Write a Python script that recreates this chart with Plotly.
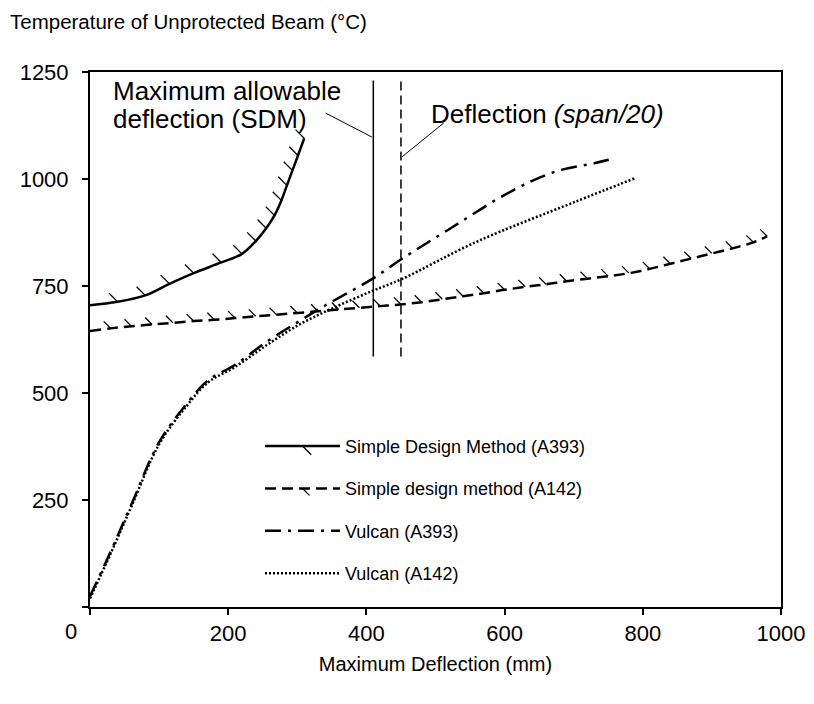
import plotly.graph_objects as go

# ---------------- data ----------------
sdm_a393_x = [0, 40, 80, 115, 150, 190, 220, 240, 255, 267, 277, 285, 293, 301, 310]
sdm_a393_y = [705, 713, 728, 755, 780, 805, 825, 855, 885, 915, 950, 985, 1020, 1055, 1095]

sdm_a142_x = [0, 30, 60, 90, 120, 150, 180, 210, 240, 270, 300, 330, 360, 390, 420, 450,
              480, 510, 540, 570, 600, 630, 660, 690, 720, 750, 780, 810, 840, 870, 900,
              930, 960, 980]
sdm_a142_y = [645, 651, 656, 660, 664, 668, 671, 675, 679, 683, 687, 691, 695, 699, 703, 707,
              712, 719, 726, 733, 741, 748, 754, 761, 767, 773, 780, 790, 802, 814, 826,
              838, 852, 866]

vulcan_a393_x = [0, 30, 60, 100, 140, 171, 209, 256, 303, 341, 408, 451, 522, 607, 673, 730, 761]
vulcan_a393_y = [25, 130, 240, 385, 475, 530, 565, 620, 668, 705, 766, 813, 885, 969, 1017, 1037, 1049]

vulcan_a142_x = [0, 30, 60, 100, 140, 171, 209, 256, 303, 351, 408, 451, 559, 701, 789]
vulcan_a142_y = [20, 125, 235, 380, 470, 525, 560, 612, 660, 698, 738, 766, 853, 946, 1002]

sdm_limit_x = [410, 410]
span20_limit_x = [450, 450]
limit_y = [585, 1230]

leader_sdm_x = [341, 408]
leader_sdm_y = [1154, 1098]
leader_span_x = [512, 451]
leader_span_y = [1131, 1051]

x_ticks = [0, 200, 400, 600, 800, 1000]
x_ticktext = ["", "200", "400", "600", "800", "1000"]
y_ticks = [0, 250, 500, 750, 1000, 1250]
y_ticktext = ["", "250", "500", "750", "1000", "1250"]

FONT = "Liberation Sans, Arial, sans-serif"
BLACK = "black"

fig = go.Figure()

hatch_big = dict(symbol="line-ns", size=9, angle=135, standoff=6, color=BLACK,
                 line=dict(color=BLACK, width=1.3))
hatch_small = dict(symbol="line-ns", size=7, angle=135, standoff=5, color=BLACK,
                   line=dict(color=BLACK, width=1.3))

fig.add_trace(go.Scatter(
    x=sdm_a393_x, y=sdm_a393_y, mode="lines+markers",
    line=dict(color=BLACK, width=2.5, shape="spline"),
    marker=hatch_big, name="Simple Design Method (A393)", legendgroup="g1"))

fig.add_trace(go.Scatter(
    x=sdm_a142_x, y=sdm_a142_y, mode="lines+markers",
    line=dict(color=BLACK, width=2.5, dash="11px,6px", shape="spline"),
    marker=hatch_small, name="Simple design method (A142)", legendgroup="g2"))

fig.add_trace(go.Scatter(
    x=vulcan_a393_x, y=vulcan_a393_y, mode="lines",
    line=dict(color=BLACK, width=2.5, dash="16px,7px,3px,7px", shape="spline"),
    name="Vulcan (A393)", legendgroup="g3"))

fig.add_trace(go.Scatter(
    x=vulcan_a142_x, y=vulcan_a142_y, mode="lines",
    line=dict(color=BLACK, width=2.5, dash="2px,2px", shape="spline"),
    name="Vulcan (A142)", legendgroup="g4"))

# reference deflection limits and leader lines
fig.add_trace(go.Scatter(x=sdm_limit_x, y=limit_y, mode="lines",
                         line=dict(color=BLACK, width=1.5), showlegend=False, hoverinfo="skip"))
fig.add_trace(go.Scatter(x=span20_limit_x, y=limit_y, mode="lines",
                         line=dict(color=BLACK, width=1.5, dash="9px,5px"),
                         showlegend=False, hoverinfo="skip"))
fig.add_trace(go.Scatter(x=leader_sdm_x, y=leader_sdm_y, mode="lines",
                         line=dict(color=BLACK, width=1), showlegend=False, hoverinfo="skip"))
fig.add_trace(go.Scatter(x=leader_span_x, y=leader_span_y, mode="lines",
                         line=dict(color=BLACK, width=1), showlegend=False, hoverinfo="skip"))

ann_font = dict(family=FONT, size=26, color=BLACK)
fig.add_annotation(x=30, y=1206, xref="x", yref="y", xanchor="left", yanchor="middle",
                   text="Maximum allowable", showarrow=False, font=ann_font)
fig.add_annotation(x=30, y=1141, xref="x", yref="y", xanchor="left", yanchor="middle",
                   text="deflection (SDM)", showarrow=False, font=ann_font)
fig.add_annotation(x=491, y=1152, xref="x", yref="y", xanchor="left", yanchor="middle",
                   text="Deflection <i>(span/20)</i>", showarrow=False, font=ann_font)
# the "0" tick label, drawn left of the axis as in the reference
fig.add_annotation(x=0, y=0, xref="x", yref="paper", xanchor="center", yanchor="top",
                   xshift=-19, yshift=-10, text="0", showarrow=False,
                   font=dict(family=FONT, size=22, color=BLACK))

fig.update_layout(
    width=814, height=704,
    margin=dict(l=73, r=41, t=64, b=105),
    paper_bgcolor="white", plot_bgcolor="white",
    font=dict(family=FONT, size=20, color=BLACK),
    title=dict(text="Temperature of Unprotected Beam (°C)", xref="container", yref="container",
               x=2 / 814, y=1 - 14 / 704, xanchor="left", yanchor="middle",
               font=dict(family=FONT, size=20.5, color=BLACK)),
    showlegend=True,
    legend=dict(x=0.246, y=0.335, xanchor="left", yanchor="top",
                bgcolor="rgba(0,0,0,0)", font=dict(family=FONT, size=18, color=BLACK),
                tracegroupgap=16, itemwidth=75),
)

fig.update_xaxes(range=[0, 1000], tickvals=x_ticks, ticktext=x_ticktext,
                 ticks="outside", ticklen=6, tickwidth=1.5, tickcolor=BLACK,
                 showline=True, linewidth=2, linecolor=BLACK, mirror=True,
                 showgrid=False, zeroline=False,
                 tickfont=dict(family=FONT, size=22, color=BLACK),
                 title=dict(text="Maximum Deflection (mm)", standoff=12,
                            font=dict(family=FONT, size=20, color=BLACK)))
fig.update_yaxes(range=[0, 1250], tickvals=y_ticks, ticktext=y_ticktext,
                 ticks="outside", ticklen=6, tickwidth=1.5, tickcolor=BLACK,
                 showline=True, linewidth=2, linecolor=BLACK, mirror=True,
                 showgrid=False, zeroline=False, ticklabelstandoff=9,
                 tickfont=dict(family=FONT, size=22, color=BLACK))

fig.write_html("out.html")
